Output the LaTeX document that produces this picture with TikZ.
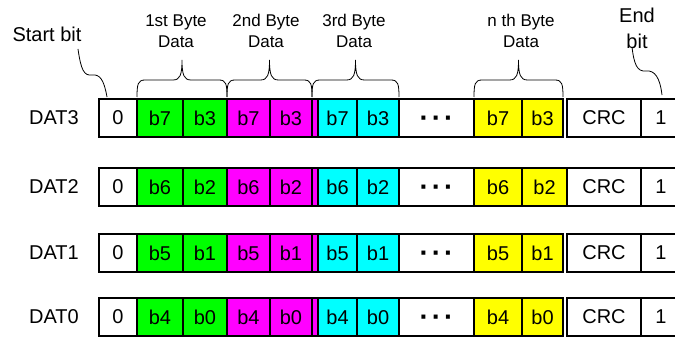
\documentclass[tikz,border=0pt]{standalone}
\usepackage{fontspec}
\setmainfont{Liberation Sans}
\usetikzlibrary{positioning,calc}

\definecolor{bytegreen}{RGB}{0,255,0}
\definecolor{bytemagenta}{RGB}{255,0,255}
\definecolor{bytecyan}{RGB}{0,255,255}
\definecolor{byteyellow}{RGB}{255,255,0}

\tikzset{
  cell/.style={draw, line width=1.3pt, outer sep=0pt, inner sep=0pt,
    minimum height=38pt, font=\fontsize{20}{24}\selectfont},
  rowlabel/.style={inner sep=0pt, font=\fontsize{20}{24}\selectfont},
  bytelabel/.style={align=center, inner sep=0pt, font=\fontsize{17}{21}\selectfont},
  bitlabel/.style={align=center, inner sep=0pt, font=\fontsize{20}{26}\selectfont},
  squiggle/.style={line width=0.8pt},
  bracestyle/.style={line width=0.8pt}
}

%% curly brace over the cells #1 ... #2
\newcommand{\bytebrace}[2]{%
  \draw[bracestyle] let \p1=(#1.north west), \p2=(#2.north east),
      \p3=($(#1.north west)!0.5!(#2.north east)$) in
    (\x1,\y1+2pt) .. controls (\x1,\y1+15pt) and (\x1+1pt,\y1+19pt) .. (\x1+8pt,\y1+19pt)
    -- (\x3-9pt,\y1+19pt) .. controls (\x3-2pt,\y1+19pt) and (\x3,\y1+24pt) .. (\x3,\y1+39pt)
    .. controls (\x3,\y1+24pt) and (\x3+2pt,\y1+19pt) .. (\x3+9pt,\y1+19pt)
    -- (\x2-8pt,\y1+19pt) .. controls (\x2-1pt,\y1+19pt) and (\x2,\y1+15pt) .. (\x2,\y1+2pt);}
\newcommand{\bytedots}{{\fontsize{28}{28}\selectfont\bfseries\vphantom{0}%
  \textperiodcentered\kern3pt\textperiodcentered\kern3pt\textperiodcentered}}

\begin{document}
\begin{tikzpicture}[x=1pt,y=-1pt]
\useasboundingbox (0,0) rectangle (675,337);

%% the four data lines
\foreach \r/\top/\hi/\lo/\yw/\gap in {3/99/7/3/41pt/4pt, 2/168/6/2/45pt/0pt,
                                      1/234/5/1/41pt/4pt, 0/298/4/0/41pt/4pt}{
  \node[cell, anchor=north west, minimum width=38pt] (start\r) at (99,\top) {0};
  \node[rowlabel, left=20pt of start\r] (dat\r) {DAT\r};
  \node[cell, fill=bytegreen, minimum width=46pt, right=0pt of start\r] (ga\r) {b\hi};
  \node[cell, fill=bytegreen, minimum width=44pt, right=0pt of ga\r] (gb\r) {b\lo};
  \node[cell, fill=bytemagenta, minimum width=43pt, right=0pt of gb\r] (ma\r) {b\hi};
  \node[cell, fill=bytemagenta, minimum width=42pt, right=0pt of ma\r] (mb\r) {b\lo};
  \node[cell, fill=bytemagenta, minimum width=6pt, right=0pt of mb\r] (mc\r) {};
  \node[cell, fill=bytecyan, minimum width=39pt, right=0pt of mc\r] (ca\r) {b\hi};
  \node[cell, fill=bytecyan, minimum width=42pt, right=0pt of ca\r] (cb\r) {b\lo};
  \node[cell, minimum width=75pt, right=0pt of cb\r] (dots\r) {\bytedots};
  \node[cell, fill=byteyellow, minimum width=48pt, right=0pt of dots\r] (ya\r) {b\hi};
  \node[cell, fill=byteyellow, minimum width=\yw, right=0pt of ya\r] (yb\r) {b\lo};
  \node[cell, minimum width=74pt, right=\gap of yb\r] (crc\r) {CRC};
  \node[cell, minimum width=40pt, right=0pt of crc\r] (end\r) {1};
}

%% the braces and their labels
\bytebrace{ga3}{gb3}
\bytebrace{ma3}{mb3}
\bytebrace{mc3}{cb3}
\bytebrace{ya3}{yb3}
\node[bytelabel] (byte1) at (176,31) {1st Byte\\Data};
\node[bytelabel] (byte2) at (266,31) {2nd Byte\\Data};
\node[bytelabel] (byte3) at (354,31) {3rd Byte\\Data};
\node[bytelabel] (byten) at (521,31) {n th Byte\\Data};

%% start and end bit
\node[rowlabel] (startbit) at (47,34) {Start bit};
\coordinate (startfoot) at (78,49);
\draw[squiggle] (startfoot) .. controls (81,70) and (84,76) .. (92,75)
  .. controls (100,74) and (104,80) .. ([xshift=8pt,yshift=2pt]start3.north west);
\node[bitlabel] (endbit) at (637,28) {End\\bit};
\coordinate (endfoot) at (632,47);
\draw[squiggle] (endfoot) .. controls (634,64) and (637,72) .. (646,71)
  .. controls (655,70) and (660,78) .. ([xshift=21pt,yshift=4pt]end3.north west);
\end{tikzpicture}
\end{document}
